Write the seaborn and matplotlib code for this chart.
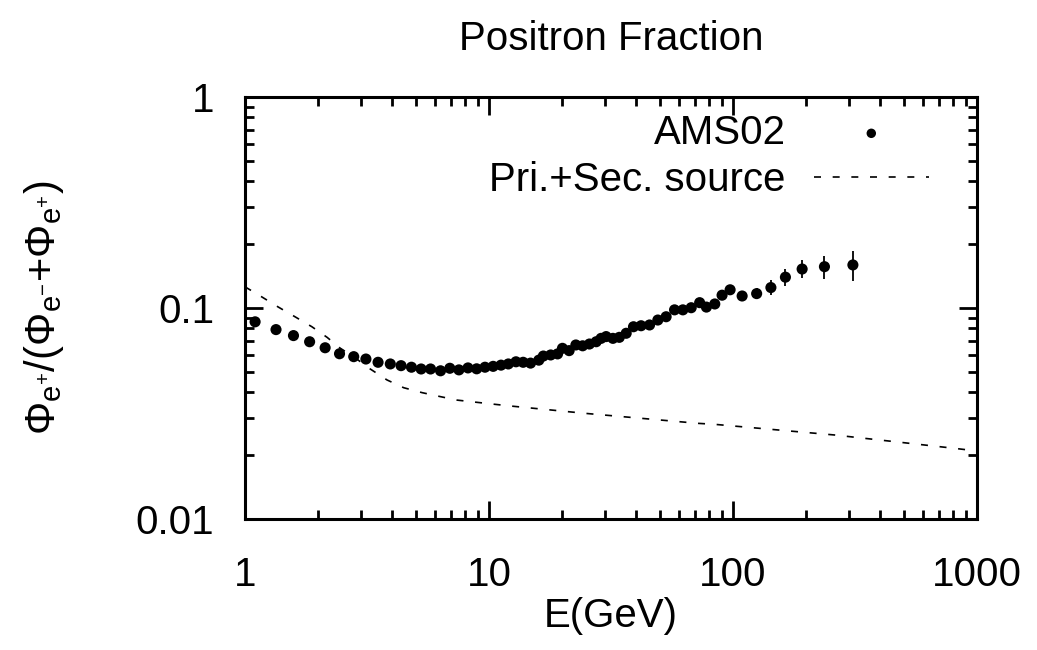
import numpy as np
import pandas as pd
import matplotlib
matplotlib.use("Agg")
import matplotlib.pyplot as plt
from matplotlib.ticker import LogLocator, NullFormatter
import seaborn as sns

# ---- data ----
ams_E = [1.10, 1.34, 1.58, 1.84, 2.13, 2.44, 2.79, 3.13, 3.51, 3.94, 4.36, 4.81,
         5.27, 5.76, 6.33, 6.91, 7.53, 8.20, 8.90, 9.63, 10.4, 11.2, 12.0, 12.9,
         13.8, 14.8, 16.0, 16.7, 17.9, 19.1, 20.0, 21.3, 22.7, 24.2, 25.8, 27.5,
         28.8, 30.2, 32.2, 34.2, 36.5, 39.1, 42.0, 45.5, 49.2, 53.2, 57.6, 62.3,
         67.4, 73.0, 77.8, 84.2, 90.2, 97.3, 109, 125, 143, 164, 192, 237, 310]
ams_frac = [0.086, 0.079, 0.074, 0.0692, 0.0648, 0.0607, 0.0588, 0.0573, 0.0553,
            0.0543, 0.0533, 0.0524, 0.0514, 0.0514, 0.0504, 0.0518, 0.0509, 0.0520,
            0.0515, 0.0524, 0.0529, 0.0536, 0.0543, 0.0556, 0.0553, 0.0548, 0.0566,
            0.0592, 0.0599, 0.0606, 0.0644, 0.0628, 0.0668, 0.0662, 0.0675, 0.0692,
            0.0718, 0.0732, 0.0718, 0.0726, 0.0759, 0.0815, 0.0824, 0.0831, 0.0877,
            0.0909, 0.098, 0.098, 0.1003, 0.106, 0.101, 0.1045, 0.115, 0.122, 0.114,
            0.117, 0.125, 0.140, 0.153, 0.157, 0.160]
ams_err = [0.001, 0.001, 0.001, 0.001, 0.001, 0.001, 0.001, 0.001, 0.001, 0.001,
           0.001, 0.001, 0.001, 0.001, 0.001, 0.001, 0.001, 0.001, 0.001, 0.001,
           0.001, 0.001, 0.001, 0.001, 0.001, 0.001, 0.001, 0.0012, 0.0012, 0.0013,
           0.0013, 0.0013, 0.0014, 0.0014, 0.0015, 0.0015, 0.0016, 0.0017, 0.0018,
           0.0019, 0.002, 0.0021, 0.0022, 0.0024, 0.0026, 0.0028, 0.003, 0.0032,
           0.0035, 0.0038, 0.004, 0.0045, 0.005, 0.0055, 0.005, 0.007, 0.010,
           0.013, 0.015, 0.020, 0.026]

model_E = [1.0, 1.17, 1.37, 1.60, 1.88, 2.17, 2.46, 2.83, 3.26, 3.82, 4.47, 5.32,
           6.33, 7.4, 10.0, 12.3, 24.6, 71.9, 84.0, 262, 815, 1000]
model_frac = [0.126, 0.113, 0.101, 0.091, 0.0815, 0.0726, 0.0644, 0.058, 0.0514,
              0.0456, 0.0419, 0.0397, 0.038, 0.0366, 0.0352, 0.0343, 0.0317, 0.0284,
              0.0281, 0.025, 0.0216, 0.021]

series_labels = ["AMS02", "Pri.+Sec. source"]
x_ticks = [1, 10, 100, 1000]
x_ticklabels = ["1", "10", "100", "1000"]
y_ticks = [0.01, 0.1, 1]
y_ticklabels = ["0.01", "0.1", "1"]

ams_df = pd.DataFrame({"E": ams_E, "frac": ams_frac, "err": ams_err})
model_df = pd.DataFrame({"E": model_E, "frac": model_frac})

# ---- style ----
sns.set_theme(style="ticks")
FONT = "Liberation Sans"
plt.rcParams["font.family"] = [FONT, "DejaVu Sans"]
plt.rcParams["mathtext.fontset"] = "custom"
plt.rcParams["mathtext.rm"] = FONT
plt.rcParams["mathtext.it"] = FONT
plt.rcParams["mathtext.bf"] = FONT + ":bold"
plt.rcParams["mathtext.default"] = "regular"
FS = 29

fig = plt.figure(figsize=(10.37, 6.5), dpi=100)
ax = fig.add_axes([245 / 1037, 1 - 519 / 650, (977 - 245) / 1037, (519 - 97) / 650])

ax.errorbar(ams_df["E"], ams_df["frac"], yerr=ams_df["err"], fmt="none",
            ecolor="black", elinewidth=1.3, capsize=0, zorder=2)
sns.scatterplot(data=ams_df, x="E", y="frac", ax=ax, color="black", s=64,
                edgecolor="none", linewidth=0, label=series_labels[0], zorder=3)
sns.lineplot(data=model_df, x="E", y="frac", ax=ax, color="black", lw=1.2,
             linestyle=(0, (4.2, 7.0)), label=series_labels[1], zorder=2)

ax.set_xscale("log")
ax.set_yscale("log")
ax.set_xlim(1, 1000)
ax.set_ylim(0.01, 1)
ax.set_xticks(x_ticks, labels=x_ticklabels)
ax.set_yticks(y_ticks, labels=y_ticklabels)
ax.xaxis.set_minor_locator(LogLocator(base=10, subs=np.arange(2, 10)))
ax.yaxis.set_minor_locator(LogLocator(base=10, subs=np.arange(2, 10)))
ax.xaxis.set_minor_formatter(NullFormatter())
ax.yaxis.set_minor_formatter(NullFormatter())

for s in ax.spines.values():
    s.set_linewidth(2.2)
    s.set_color("black")
ax.tick_params(which="both", direction="in", top=True, right=True, color="black")
ax.tick_params(which="major", length=13, width=2.0, labelsize=FS)
ax.tick_params(which="minor", length=6.5, width=2.0)
ax.tick_params(axis="x", which="major", pad=27)
ax.tick_params(axis="y", which="major", pad=22)
for lab in ax.get_xticklabels() + ax.get_yticklabels():
    lab.set_color("black")

ax.set_title("Positron Fraction", fontsize=FS, pad=34, color="black")
ax.set_xlabel("E(GeV)", fontsize=FS, color="black")
ax.set_ylabel(r"$\Phi_{e^{+}}/(\Phi_{e^{-}}{+}\Phi_{e^{+}})$", fontsize=30, color="black")
ax.xaxis.set_label_coords(0.5, -0.185)
ax.yaxis.set_label_coords(-0.245, 0.5)

leg = ax.legend(loc="upper right", bbox_to_anchor=(0.934, 0.96), frameon=False,
                markerfirst=False, fontsize=FS, handlelength=2.85, handletextpad=0.7,
                labelspacing=0.22, borderaxespad=0, borderpad=0, markerscale=0.85)
for t in leg.get_texts():
    t.set_color("black")

fig.savefig("out.png", dpi=100, facecolor="white")
